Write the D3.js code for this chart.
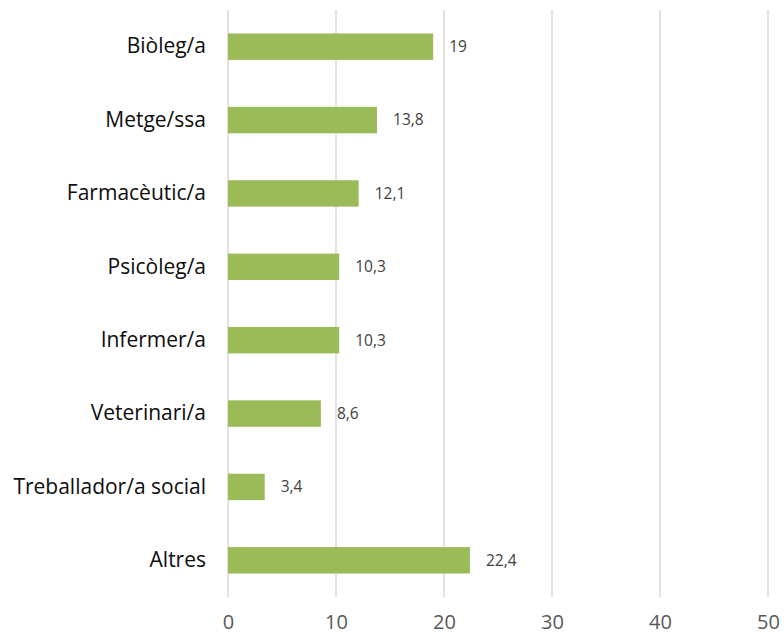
<!DOCTYPE html>
<html>
<head>
<meta charset="utf-8">
<script src="https://cdn.jsdelivr.net/npm/d3@7"></script>
<style>
  body { margin: 0; background: #fff; }
  text { font-family: "Open Sans", sans-serif; }
</style>
</head>
<body>
<svg id="mysvg" width="784" height="638"></svg>
<script>
// data
var categories = ["Biòleg/a", "Metge/ssa", "Farmacèutic/a", "Psicòleg/a", "Infermer/a", "Veterinari/a", "Treballador/a social", "Altres"];
var values = [19, 13.8, 12.1, 10.3, 10.3, 8.6, 3.4, 22.4];
var xTicks = [0, 10, 20, 30, 40, 50];

var margin = { top: 10, right: 16, bottom: 41, left: 228 };
var w = 784 - margin.left - margin.right;
var h = 638 - margin.top - margin.bottom;

var svg = d3.select("#mysvg")
  .append("g")
  .attr("transform", "translate(" + margin.left + "," + margin.top + ")");

var xScale = d3.scaleLinear().domain([0, 50]).range([0, w]);
var yScale = d3.scaleBand().domain(categories).range([0, h]).paddingInner(0.64).paddingOuter(0.32);

// gridlines
svg.append("g")
  .selectAll("line")
  .data(xTicks)
  .enter().append("line")
  .attr("x1", function (d) { return xScale(d); })
  .attr("x2", function (d) { return xScale(d); })
  .attr("y1", 0)
  .attr("y2", h)
  .attr("stroke", "#d9d9d9")
  .attr("stroke-width", 1.5);

// x axis labels
var xAxis = svg.append("g")
  .attr("transform", "translate(0," + h + ")")
  .call(d3.axisBottom(xScale).tickValues(xTicks).tickSize(0).tickPadding(18));
xAxis.select(".domain").remove();
xAxis.selectAll("text")
  .attr("font-size", 20)
  .attr("fill", "#595959")
  .style("font-family", "'Open Sans', sans-serif");

// y axis labels
var yAxis = svg.append("g")
  .call(d3.axisLeft(yScale).tickSize(0).tickPadding(22));
yAxis.select(".domain").remove();
yAxis.selectAll("text")
  .attr("font-size", 21)
  .attr("fill", "#0d0d0d")
  .style("font-family", "'Open Sans', sans-serif");

var rows = categories.map(function (c, i) { return { name: c, value: values[i] }; });

svg.selectAll(".bar")
  .data(rows)
  .enter().append("rect")
  .attr("class", "bar")
  .attr("x", xScale(0))
  .attr("y", function (d) { return yScale(d.name); })
  .attr("width", function (d) { return xScale(d.value) - xScale(0); })
  .attr("height", yScale.bandwidth())
  .attr("fill", "#9bbb59");

svg.selectAll(".lbl")
  .data(rows)
  .enter().append("text")
  .attr("class", "lbl")
  .attr("x", function (d) { return xScale(d.value) + 16; })
  .attr("y", function (d) { return yScale(d.name) + yScale.bandwidth() / 2; })
  .attr("dy", "0.35em")
  .attr("font-size", 15.5)
  .attr("fill", "#404040")
  .text(function (d) { return String(d.value).replace(".", ","); });
</script>
</body>
</html>
